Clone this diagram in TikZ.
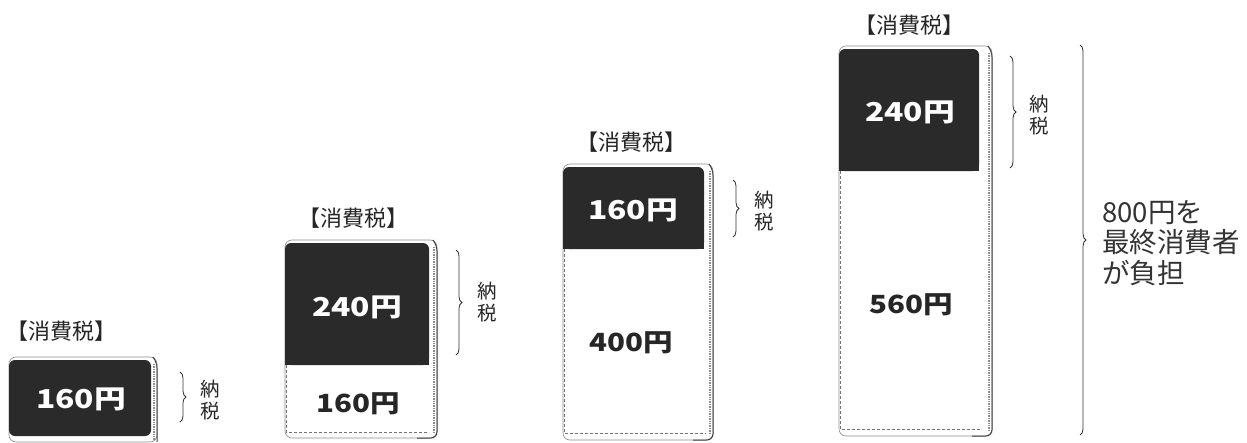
\documentclass[tikz,border=0pt]{standalone}
\usepackage{fontspec}
\newfontfamily\cjk{Noto Sans CJK JP}
\usetikzlibrary{decorations.pathreplacing}
\definecolor{darkfill}{RGB}{42,42,42}
\tikzset{
  lbl/.style={font=\cjk\fontsize{22}{22}\selectfont, inner sep=0pt, text=black!85},
  wnum/.style={text=white, font=\cjk\bfseries\fontsize{26}{26}\selectfont, inner sep=0pt},
  bnum/.style={text=black!85, font=\cjk\bfseries\fontsize{25}{25}\selectfont, inner sep=0pt},
  tax/.style={font=\cjk\fontsize{19.5}{21.5}\selectfont, align=center, inner sep=0pt, text=black!85},
  bigtxt/.style={font=\cjk\fontsize{27.5}{30.5}\selectfont, align=left, inner sep=0pt, text=black!80},
  brc/.style={decorate, decoration={brace, amplitude=6pt}, line width=0.8pt, draw=black!80},
  darkbox/.style={fill=darkfill, rounded corners=6pt},
  outerframe/.style={draw=black!45, line width=0.6pt, rounded corners=7pt},
  rightedge/.style={draw=black!75, line width=1pt},
  rightshade/.style={draw=black!45, line width=1.4pt, densely dotted},
  innerdash/.style={draw=black!55, line width=0.6pt, densely dashed}
}
\newcommand{\stackbox}[6]{% L, T, D, R, OR, B
  \draw[outerframe] (#1,#2-3) rectangle (#5,#6);
  \draw[rightshade] (#5-3,#2+4) -- (#5-3,#6-5);
  \draw[rightedge, rounded corners=6pt] (#5-4,#2-3) -- (#5,#2+2) -- (#5,#6) -- (#5-20,#6);
  \fill[darkbox] (#1,#2) rectangle (#4,#3);
  \fill[darkfill] (#1,#3-10) rectangle (#4,#3);
}
\begin{document}
\begin{tikzpicture}[x=1pt,y=-1pt]
\useasboundingbox (0,0) rectangle (1247,442);
\fill[white] (0,0) rectangle (1247,442);

% box 1
\draw[outerframe] (9,357) rectangle (157,442);
\draw[rightshade] (154,364) -- (154,440);
\draw[rightedge, rounded corners=6pt] (153,357) -- (157,362) -- (157,442);
\fill[darkfill, rounded corners=6pt] (9,360) rectangle (151,436);
\node[lbl] (l1) at (61,331) {【消費税】};
\node[wnum] (w1) at (81,399) {\scalebox{1.22}[1]{160円}};
\coordinate (b1t) at (180,372);
\coordinate (b1b) at (180,422);
\draw[brc] (b1t) -- (b1b);
\node[tax] (t1) at (210,400) {納\\税};

% box 2
\stackbox{285}{243}{365}{429}{437}{438}
\draw[innerdash] (286,365) -- (286,432) -- (429,432);
\node[lbl] (l2) at (353,218) {【消費税】};
\node[wnum] (w2) at (357,307) {\scalebox{1.22}[1]{240円}};
\node[bnum] (n2) at (358,404) {\scalebox{1.18}[1]{160円}};
\coordinate (b2t) at (456,250);
\coordinate (b2b) at (456,355);
\draw[brc] (b2t) -- (b2b);
\node[tax] (t2) at (487,302) {納\\税};

% box 3
\stackbox{563}{167}{249}{704}{713}{440}
\draw[innerdash] (564,249) -- (564,433) -- (706,433);
\node[lbl] (l3) at (631,142) {【消費税】};
\node[wnum] (w3) at (633,210) {\scalebox{1.22}[1]{160円}};
\node[bnum] (n3) at (631,343) {\scalebox{1.18}[1]{400円}};
\coordinate (b3t) at (733,180);
\coordinate (b3b) at (733,237);
\draw[brc] (b3t) -- (b3b);
\node[tax] (t3) at (764,211) {納\\税};

% box 4
\stackbox{839}{49}{171}{979}{992}{436}
\draw[innerdash] (840,171) -- (840,429) -- (982,429);
\node[lbl] (l4) at (909,25) {【消費税】};
\node[wnum] (w4) at (910,112) {\scalebox{1.22}[1]{240円}};
\node[bnum] (n4) at (911,305) {\scalebox{1.18}[1]{560円}};
\coordinate (b4t) at (1010,56);
\coordinate (b4b) at (1010,168);
\draw[brc] (b4t) -- (b4b);
\node[tax] (t4) at (1039,115) {納\\税};

% total
\coordinate (bt) at (1080,45);
\coordinate (bb) at (1080,435);
\draw[brc] (bt) -- (bb);
\node[bigtxt, anchor=west] (total) at (1102,243) {800円を\\最終消費者\\が負担};
\end{tikzpicture}
\end{document}
